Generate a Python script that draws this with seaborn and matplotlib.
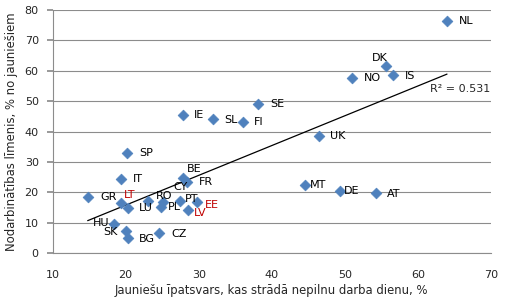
import matplotlib
matplotlib.use("Agg")
import matplotlib.pyplot as plt
import numpy as np
import pandas as pd
import seaborn as sns

sns.set_theme(style="white")
plt.rcParams['font.family'] = ['DejaVu Sans']

countries = ['NL', 'DK', 'IS', 'NO', 'SE', 'IE', 'SL', 'FI', 'UK', 'SP',
             'BE', 'FR', 'CY', 'IT', 'GR', 'LT', 'LU', 'RO', 'PL', 'PT',
             'EE', 'LV', 'HU', 'SK', 'BG', 'CZ', 'MT', 'DE', 'AT']
part_time = [64.0, 55.7, 56.6, 51.0, 38.1, 27.9, 31.9, 36.1, 46.5, 20.2,
             27.8, 28.4, 25.1, 19.3, 14.8, 19.3, 20.3, 23.1, 24.8, 27.4,
             29.8, 28.6, 18.4, 20.0, 20.3, 24.6, 44.5, 49.3, 54.3]
employment = [76.4, 61.6, 58.5, 57.5, 49.2, 45.4, 44.2, 43.2, 38.5, 33.0,
              24.7, 23.4, 16.8, 24.4, 18.4, 16.6, 14.7, 17.3, 15.3, 17.3,
              16.8, 14.2, 9.6, 7.3, 4.9, 6.7, 22.5, 20.3, 19.7]
red_labels = ['LT', 'EE', 'LV']
r2_text = 'R² = 0.531'

# label offsets in pixels (dx, dy, ha)
offsets = {
    'NL': (12, 0, 'left'), 'DK': (-7, 8, 'center'), 'IS': (12, -1, 'left'),
    'NO': (12, 0, 'left'), 'SE': (12, 0, 'left'), 'IE': (11, 0, 'left'),
    'SL': (12, -1, 'left'), 'FI': (11, 0, 'left'), 'UK': (11, 0, 'left'),
    'SP': (12, 0, 'left'), 'BE': (4, 9, 'left'), 'FR': (12, 0, 'left'),
    'CY': (10, 15, 'left'), 'IT': (12, 0, 'left'), 'GR': (13, 0, 'left'),
    'LT': (3, 8, 'left'), 'LU': (11, 0, 'left'), 'RO': (8, 5, 'left'),
    'PL': (7, 0, 'left'), 'PT': (5, 2, 'left'), 'EE': (8, -3, 'left'),
    'LV': (5, -3, 'left'), 'HU': (-5, 1, 'right'), 'SK': (-8, -1, 'right'),
    'BG': (11, -1, 'left'), 'CZ': (12, -1, 'left'), 'MT': (5, 0, 'left'),
    'DE': (4, 0, 'left'), 'AT': (11, -1, 'left'),
}

df = pd.DataFrame({'country': countries, 'x': part_time, 'y': employment})

fig = plt.figure(figsize=(5.06, 3.06), dpi=100)
ax = fig.add_axes([0.104, 0.173, 0.866, 0.794])

sns.regplot(data=df, x='x', y='y', ax=ax, scatter=False, ci=None,
            line_kws={'color': 'black', 'lw': 0.9})
sns.scatterplot(data=df, x='x', y='y', ax=ax, marker='D', s=30,
                color='#4F81BD', edgecolor='#4F81BD', linewidth=0.5, zorder=3)

for c, xv, yv in zip(countries, part_time, employment):
    dx, dy, ha = offsets[c]
    ax.annotate(c, (xv, yv), xytext=(dx, dy), textcoords='offset pixels',
                ha=ha, va='center', fontsize=8,
                color='#C00000' if c in red_labels else 'black')

ax.text(61.7, 53.9, r2_text, fontsize=8, ha='left', va='center')

ax.set_xlim(10, 70)
ax.set_ylim(0, 80)
ax.set_xticks(range(10, 71, 10))
ax.set_yticks(range(0, 81, 10))
ax.yaxis.grid(True, color='#8C8C8C', lw=0.8)
ax.set_axisbelow(True)
for s in ['top', 'right']:
    ax.spines[s].set_visible(False)
for s in ['left', 'bottom']:
    ax.spines[s].set_color('#8C8C8C')
    ax.spines[s].set_linewidth(0.8)
ax.tick_params(axis='y', left=True, length=4, color='#8C8C8C', labelsize=8, pad=6)
ax.tick_params(axis='x', bottom=False, labelsize=8, pad=6)
ax.set_xlabel('Jauniešu īpatsvars, kas strādā nepilnu darba dienu, %', fontsize=8.4, labelpad=3)
ax.set_ylabel('Nodarbinātības līmenis, % no jauniešiem', fontsize=8.4, labelpad=5)

fig.savefig('out.png', dpi=100)
